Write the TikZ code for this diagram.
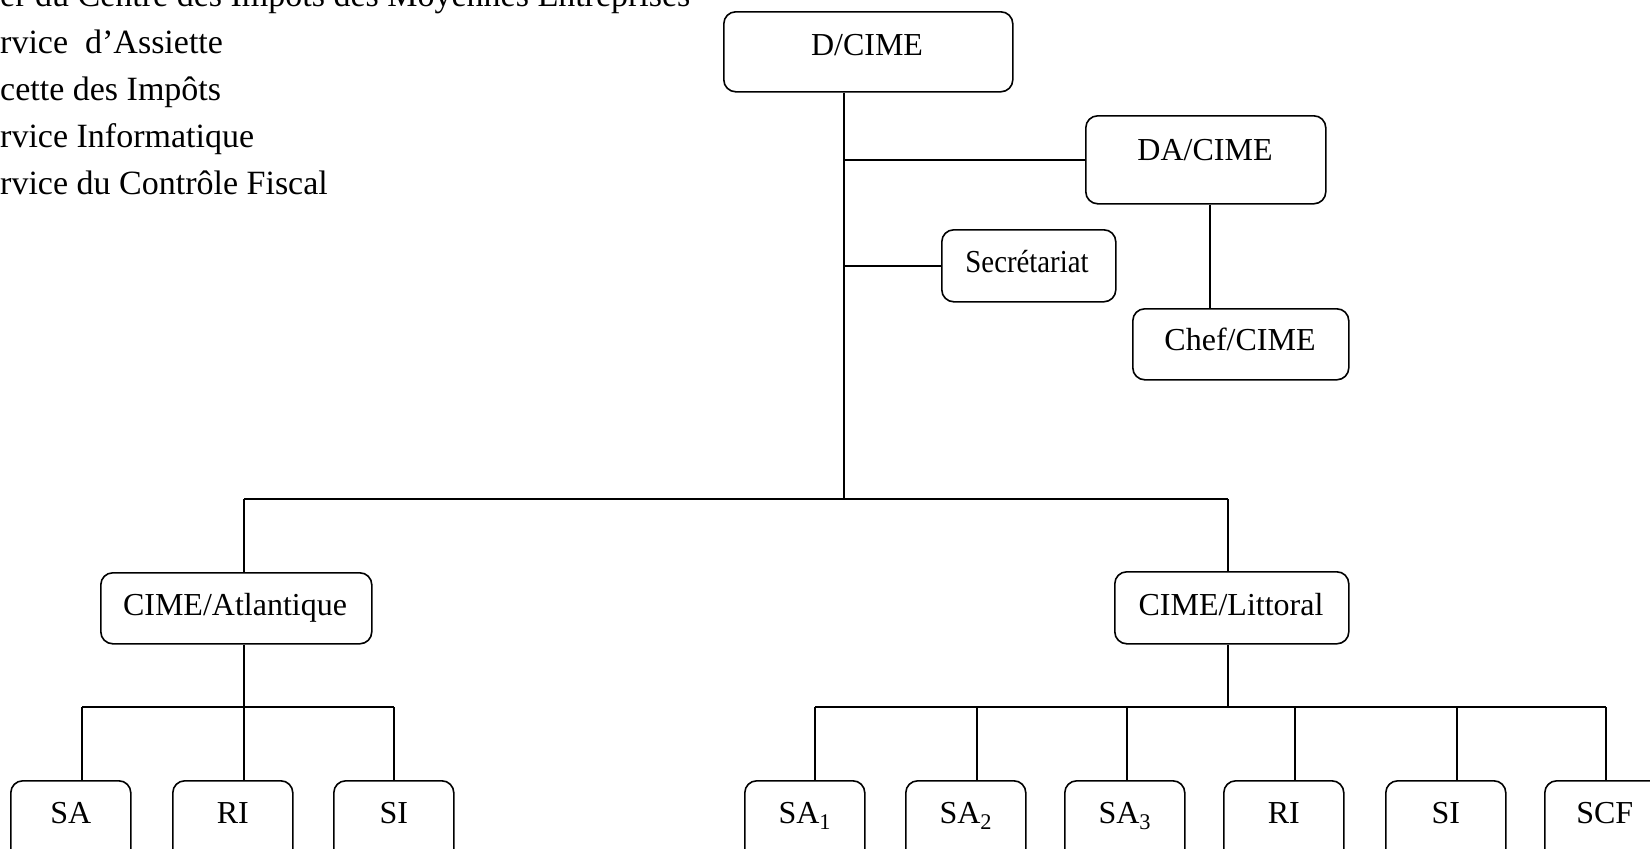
\documentclass[tikz,border=0pt]{standalone}
\usepackage{fontspec}
\setmainfont{Liberation Serif}
\newfontfamily\condserif{Liberation Serif}[FakeStretch=0.9]
\usetikzlibrary{calc}
\tikzset{
  box/.style={draw, line width=1.6pt, rounded corners=12pt, inner sep=0pt, anchor=north west},
  lbl/.style={inner sep=0pt, anchor=base, font=\fontsize{32}{38}\selectfont},
  listtxt/.style={inner sep=0pt, anchor=base west, font=\fontsize{34}{40}\selectfont},
  conn/.style={line width=1.6pt}
}
\begin{document}
\begin{tikzpicture}[x=1pt,y=-1pt]
\useasboundingbox (0,0) rectangle (1650,849);
\clip (0,0) rectangle (1650,849);
% list text (cut off at the left edge)
\node[listtxt] (l1) at (0,6) {er du Centre des Impôts des Moyennes Entreprises};
\node[listtxt] (l2) at (0,53) {rvice\ \ d’Assiette};
\node[listtxt] (l3) at (0,100) {cette des Impôts};
\node[listtxt] (l4) at (0,147) {rvice Informatique};
\node[listtxt] (l5) at (0,194) {rvice du Contrôle Fiscal};
% boxes
\node[box, minimum width=289, minimum height=80] (dcime) at (723,11) {};
\node[lbl] (dcimeT) at (867,55) {D/CIME};
\node[box, minimum width=240, minimum height=88] (dacime) at (1085,115) {};
\node[lbl] (dacimeT) at (1205,160) {DA/CIME};
\node[box, minimum width=174, minimum height=72] (sec) at (941,229) {};
\node[lbl, font=\fontsize{32}{38}\condserif] (secT) at (1027,272) {Secrétariat};
\node[box, minimum width=216, minimum height=71] (chef) at (1132,308) {};
\node[lbl] (chefT) at (1240,350) {Chef/CIME};
\node[box, minimum width=271, minimum height=71] (atl) at (100,572) {};
\node[lbl] (atlT) at (235,615) {CIME/Atlantique};
\node[box, minimum width=234, minimum height=72] (lit) at (1114,571) {};
\node[lbl] (litT) at (1231,615) {CIME/Littoral};
% bottom boxes
\foreach \n/\x/\t in {sa/10/SA, ria/172/RI, sia/333/SI,
  saone/744/SA\textsubscript{1}, satwo/905/SA\textsubscript{2}, sathree/1064/SA\textsubscript{3},
  rib/1223/RI, sib/1385/SI, scf/1544/SCF}{
  \node[box, minimum width=120, minimum height=100] (\n) at (\x,780) {};
  \node[lbl] (\n T) at ($(\n.north)+(0,43)$) {\t};
}
% junction coordinates
\coordinate (j0) at (844,499);
\coordinate (jl) at (244,499);
\coordinate (jr) at (1228,499);
\coordinate (ja) at (244,707);
\coordinate (jb) at (1228,707);
% connectors
\draw[conn] (dcime.south -| j0) -- (j0);
\draw[conn] (jl) -- (jr);
\draw[conn] (jl) -- (atl.north -| jl);
\draw[conn] (jr) -- (lit.north -| jr);
\draw[conn] (dacime.west) -- (dacime.west -| j0);
\draw[conn] (sec.west) -- (sec.west -| j0);
\draw[conn] (dacime.south -| 1210,0) -- (chef.north -| 1210,0);
% left sub-branch
\draw[conn] (atl.south -| ja) -- (ja);
\draw[conn] (82,707) -- (394,707);
\draw[conn] (82,707) -- (sa.north -| 82,0);
\draw[conn] (244,707) -- (ria.north -| 244,0);
\draw[conn] (394,707) -- (sia.north -| 394,0);
% right sub-branch
\draw[conn] (lit.south -| jb) -- (jb);
\draw[conn] (815,707) -- (1606,707);
\draw[conn] (815,707) -- (saone.north -| 815,0);
\draw[conn] (977,707) -- (satwo.north -| 977,0);
\draw[conn] (1127,707) -- (sathree.north -| 1127,0);
\draw[conn] (1295,707) -- (rib.north -| 1295,0);
\draw[conn] (1457,707) -- (sib.north -| 1457,0);
\draw[conn] (1606,707) -- (scf.north -| 1606,0);
\end{tikzpicture}
\end{document}
